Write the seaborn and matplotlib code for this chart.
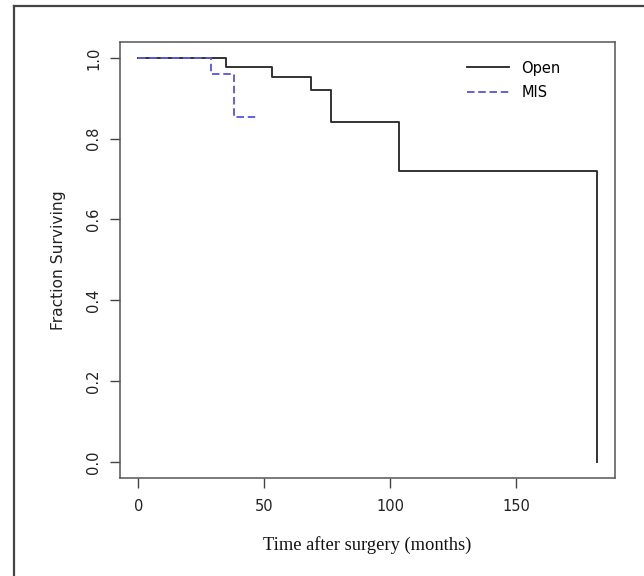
import numpy as np
import pandas as pd
import matplotlib
matplotlib.use("Agg")
import matplotlib.pyplot as plt
import seaborn as sns
from matplotlib.lines import Line2D

# --- dados (Kaplan-Meier) ---
open_tempo = [0, 34.7, 52.9, 68.5, 76.5, 103.6, 182.0]
open_surv = [1.0, 0.977, 0.952, 0.920, 0.841, 0.719, 0.0]

mis_tempo = [0, 28.7, 37.8, 46.9]
mis_surv = [1.0, 0.960, 0.853, 0.853]

grupos = ["Open", "MIS"]
x_ticks = [0, 50, 100, 150]
y_ticks = [0.0, 0.2, 0.4, 0.6, 0.8, 1.0]

df = pd.concat([
    pd.DataFrame({"tempo": open_tempo, "surv": open_surv, "grupo": "Open"}),
    pd.DataFrame({"tempo": mis_tempo, "surv": mis_surv, "grupo": "MIS"}),
], ignore_index=True)

plt.rcParams["font.family"] = ["DejaVu Sans"]

fig = plt.figure(figsize=(6.44, 5.76), dpi=100)
ax = fig.add_axes([120 / 644, 1 - 478 / 576, 495 / 644, 436.3 / 576])

sns.lineplot(data=df, x="tempo", y="surv", hue="grupo", style="grupo",
             hue_order=grupos, style_order=grupos,
             palette={"Open": "#2b2b2b", "MIS": "#5b5be0"},
             dashes={"Open": "", "MIS": (4, 2)},
             drawstyle="steps-post", estimator=None, sort=False,
             linewidth=1.35, ax=ax)

ax.set_xlim(-7.28, 189.3)
ax.set_ylim(-0.04, 1.04)
ax.set_xticks(x_ticks)
ax.set_yticks(y_ticks)
ax.set_xticklabels([str(t) for t in x_ticks])
ax.set_yticklabels([f"{t:.1f}" for t in y_ticks], rotation=90, va="center")
ax.tick_params(axis="both", direction="out", length=7, width=1.0,
               color="#444444", labelsize=10.5, labelcolor="#222222", pad=8)
ax.tick_params(axis="y", pad=6.5)

for s in ax.spines.values():
    s.set_color("#555555")
    s.set_linewidth(1.1)

ax.set_xlabel("Time after surgery (months)", family="Liberation Serif",
              fontsize=13.3, color="#111111", labelpad=16)
ax.set_ylabel("Fraction Surviving", fontsize=11.2, color="#222222", labelpad=14.5)

leg = ax.legend(loc="center left", bbox_to_anchor=(0.70, 0.911), frameon=False,
                fontsize=10.5, handlelength=2.9, handletextpad=0.85,
                labelspacing=0.68, borderpad=0, borderaxespad=0)

# moldura cortada da figura (esquerda e topo)
fig.add_artist(Line2D([14 / 644, 14 / 644], [0, 1 - 6 / 576],
                      transform=fig.transFigure, color="#444444", lw=1.6))
fig.add_artist(Line2D([14 / 644, 1], [1 - 6 / 576, 1 - 6 / 576],
                      transform=fig.transFigure, color="#444444", lw=1.6))

fig.savefig("out.png", dpi=100)
